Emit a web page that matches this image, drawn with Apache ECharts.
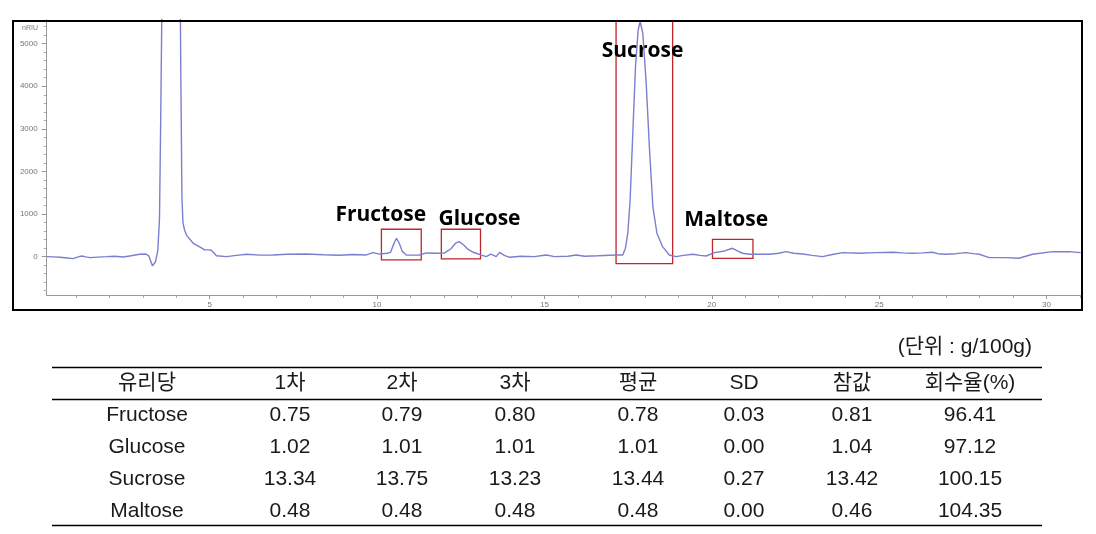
<!DOCTYPE html>
<html><head><meta charset="utf-8">
<script src="https://cdn.jsdelivr.net/npm/echarts@6.0.0/dist/echarts.min.js"></script>
<style>html,body{margin:0;padding:0;background:#fff}#c{width:1096px;height:534px}</style>
</head><body><div id="c"></div>
<script>
// ---- chromatogram trace (retention time in min, signal in nRIU) ----
const timeMin = [0.13,0.33,0.53,0.75,0.92,1.05,1.17,1.30,1.42,1.65,1.92,2.15,2.42,2.65,2.91,3.09,3.18,3.29,3.38,3.45,3.50,3.54,3.58,3.66,3.80,3.92,4.04,4.12,4.14,4.17,4.20,4.25,4.31,4.50,4.70,4.85,4.97,5.05,5.20,5.50,5.80,6.10,6.50,6.89,7.30,7.89,8.40,8.88,9.30,9.68,9.88,10.08,10.30,10.40,10.50,10.58,10.66,10.75,10.87,11.10,11.27,11.47,11.75,12.02,12.20,12.35,12.45,12.58,12.72,12.85,12.96,13.10,13.26,13.40,13.56,13.66,13.80,13.96,14.30,14.70,15.05,15.30,15.70,15.95,16.20,16.60,17.14,17.34,17.42,17.49,17.56,17.64,17.72,17.80,17.86,17.94,18.04,18.14,18.24,18.36,18.53,18.73,18.93,19.15,19.43,19.65,19.83,20.08,20.38,20.62,20.78,20.92,21.12,21.72,22.00,22.22,22.45,22.71,23.00,23.31,23.60,23.91,24.41,24.90,25.41,25.70,26.00,26.30,26.60,26.75,26.99,27.30,27.59,27.80,27.99,28.29,28.78,29.18,29.58,30.18,30.67,31.02];
const signal  = [0,-5,-15,-30,-47,-10,16,-5,-23,-10,0,10,-7,20,56,63,20,-218,-120,150,900,3500,6500,10000,12500,12000,9000,6000,4000,1400,800,620,500,320,230,160,160,150,20,0,30,56,35,40,55,63,45,33,50,40,94,60,80,100,300,432,320,130,40,35,40,87,80,87,180,320,352,280,170,110,80,40,0,60,0,100,30,-15,10,0,40,0,10,40,10,20,40,40,200,550,1330,2900,4460,5320,5520,5240,4070,2500,1170,550,235,40,0,30,56,30,16,94,134,197,130,80,56,56,80,117,80,63,30,0,50,94,80,95,103,90,80,90,103,70,56,70,94,70,56,-23,-23,-38,56,117,117,94];

// ---- peak annotations (data coordinates) ----
const peakNames  = ['Fructose','Glucose','Sucrose','Maltose'];
const peakLabelT = [10.11, 13.06, 17.93, 20.43];
const peakLabelV = [979, 885, 4829, 862];
const boxT0 = [10.13, 11.92, 17.14, 20.02];
const boxT1 = [11.32, 13.09, 18.83, 21.23];
const boxV0 = [-77, -54, -164, -38];
const boxV1 = [643, 643, 5540, 408];

// ---- axes ----
const xMin = 0.13, xMax = 31.03;
const xMajorTicks = [5, 10, 15, 20, 25, 30];
const xMinorTicks = [1,2,3,4,6,7,8,9,11,12,13,14,16,17,18,19,21,22,23,24,26,27,28,29,31];
const yMin = -900, yMax = 5560;
const yMajorTicks = [0, 1000, 2000, 3000, 4000, 5000];
const yMinorTicks = [-800,-600,-400,-200,200,400,600,800,1200,1400,1600,1800,2200,2400,2600,2800,3200,3400,3600,3800,4200,4400,4600,4800,5200,5400];
const yUnit = 'nRIU';

// ---- table ----
const unitText = '(단위 : g/100g)';
const headers = ['유리당','1차','2차','3차','평균','SD','참값','회수율(%)'];
const sugars = ['Fructose','Glucose','Sucrose','Maltose'];
const run1 = [0.75, 1.02, 13.34, 0.48];
const run2 = [0.79, 1.01, 13.75, 0.48];
const run3 = [0.80, 1.01, 13.23, 0.48];
const meanV = [0.78, 1.01, 13.44, 0.48];
const sdV = [0.03, 0.00, 0.27, 0.00];
const trueV = [0.81, 1.04, 13.42, 0.46];
const recovery = [96.41, 97.12, 100.15, 104.35];

// ---- build ----
const lineData = timeMin.map((t, i) => [t, signal[i]]);
const labelData = peakNames.map((n, i) => ({ name: n, value: [peakLabelT[i], peakLabelV[i]] }));
const boxData = peakNames.map((n, i) => [{ xAxis: boxT0[i], yAxis: boxV0[i] }, { xAxis: boxT1[i], yAxis: boxV1[i] }]);

const colX = [147, 290, 402, 515, 638, 744, 852, 970];
const headerY = 383, rowY0 = 415, rowH = 32;
const tLeft = 52, tRight = 1042;
const FONT = '"Liberation Sans", "Noto Sans CJK KR", sans-serif';
const cols = [sugars, run1, run2, run3, meanV, sdV, trueV, recovery];

const g = [];
g.push({ type: 'rect', shape: { x: 13, y: 21, width: 1069, height: 289 }, style: { fill: 'none', stroke: '#000', lineWidth: 2 }, z: 100 });
g.push({ type: 'text', x: 38, y: 28, style: { text: yUnit, fontSize: 7, fontFamily: 'Liberation Sans', fill: '#777', align: 'right', verticalAlign: 'middle' } });
[367.5, 399.5, 525.5].forEach(yy => g.push({ type: 'line', shape: { x1: tLeft, y1: yy, x2: tRight, y2: yy }, style: { stroke: '#000', lineWidth: 1.4 } }));
g.push({ type: 'text', x: 1032, y: 347, style: { text: unitText, fontSize: 21, fontFamily: FONT, fill: '#1a1a1a', align: 'right', verticalAlign: 'middle' } });
headers.forEach((h, c) => g.push({ type: 'text', x: colX[c], y: headerY, style: { text: h, fontSize: 21, fontFamily: FONT, fill: '#1a1a1a', align: 'center', verticalAlign: 'middle' } }));
cols.forEach((col, c) => col.forEach((v, r) => g.push({ type: 'text', x: colX[c], y: rowY0 + r * rowH, style: { text: typeof v === 'number' ? v.toFixed(2) : v, fontSize: 21, fontFamily: FONT, fill: '#1a1a1a', align: 'center', verticalAlign: 'middle' } })));

const axisGray = '#999';
const chart = echarts.init(document.getElementById('c'), null, { renderer: 'canvas' });
chart.setOption({
  animation: false,
  backgroundColor: '#fff',
  grid: { left: 46.7, right: 15, top: 19.8, bottom: 239 },
  xAxis: [{
    type: 'value', min: xMin, max: xMax, position: 'bottom',
    axisLine: { onZero: false, lineStyle: { color: axisGray, width: 1 } },
    axisTick: { show: true, length: 4, customValues: xMajorTicks, lineStyle: { color: axisGray } },
    axisLabel: { fontSize: 8, color: '#777', margin: 6, fontFamily: 'Liberation Sans', customValues: xMajorTicks, formatter: v => String(v) },
    splitLine: { show: false }
  }, {
    type: 'value', min: xMin, max: xMax, position: 'bottom',
    axisLine: { show: false, onZero: false },
    axisTick: { show: true, length: 3, customValues: xMinorTicks, lineStyle: { color: '#aaa' } },
    axisLabel: { show: false }, splitLine: { show: false }
  }],
  yAxis: [{
    type: 'value', min: yMin, max: yMax, position: 'left',
    axisLine: { show: true, onZero: false, lineStyle: { color: axisGray, width: 1 } },
    axisTick: { show: true, length: 5, customValues: yMajorTicks, lineStyle: { color: axisGray } },
    axisLabel: { fontSize: 8, color: '#777', margin: 9, fontFamily: 'Liberation Sans', customValues: yMajorTicks, formatter: v => String(v) },
    splitLine: { show: false }
  }, {
    type: 'value', min: yMin, max: yMax, position: 'left',
    axisLine: { show: false, onZero: false },
    axisTick: { show: true, length: 3, customValues: yMinorTicks, lineStyle: { color: '#aaa' } },
    axisLabel: { show: false }, splitLine: { show: false }
  }],
  series: [
    {
      type: 'line', data: lineData, symbol: 'none', silent: true, clip: true,
      smooth: false,
      lineStyle: { color: '#7b7fcf', width: 1.4 },
      markArea: { silent: true, itemStyle: { color: 'rgba(0,0,0,0)', borderColor: '#c0272d', borderWidth: 1.3 }, label: { show: false }, data: boxData }
    },
    {
      type: 'scatter', data: labelData, symbol: 'rect', symbolSize: 1, silent: true,
      itemStyle: { color: 'rgba(0,0,0,0)', opacity: 1 },
      label: { show: true, position: 'inside', formatter: p => p.name, fontSize: 21, fontWeight: 'bold', fontFamily: '"Open Sans", sans-serif', color: '#000', opacity: 1 }
    }
  ],
  graphic: g
});
</script>
</body></html>
